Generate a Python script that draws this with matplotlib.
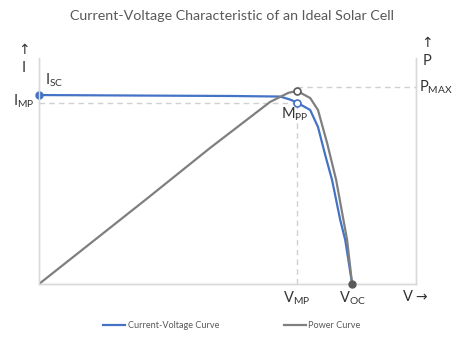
"""
plot.py -- I-V and P-V characteristic of an ideal solar cell (normalised units).
"""
import matplotlib
matplotlib.use("Agg")
import matplotlib.pyplot as plt
from matplotlib.lines import Line2D

# normalised voltage (Voc = 1), current (Isc = 1), power (Pmax = 1)
V_IV = [0.0, 0.355, 0.610, 0.770, 0.802, 0.824, 0.866, 0.891, 0.914, 0.936, 0.962, 0.978, 1.0]
I_IV = [1.0, 0.997, 0.995, 0.992, 0.976, 0.960, 0.921, 0.831, 0.683, 0.550, 0.339, 0.233, 0.0]
V_P = [0.0, 0.339, 0.546, 0.642, 0.738, 0.796, 0.824, 0.866, 0.891, 0.920, 0.949, 0.984, 1.0]
P_P = [0.0, 0.426, 0.690, 0.807, 0.924, 0.970, 0.980, 0.944, 0.883, 0.716, 0.528, 0.223, 0.0]

V_MP, I_MP, P_PEAK, P_MAX, V_OC, I_SC = 0.824, 0.960, 0.980, 1.0, 1.0, 1.0
XMAX, IMAX, PMAXLIM = 1.204, 1.196, 1.147

BLUE = "#4472C4"
GRAY = "#7F7F7F"
DARK = "#333333"
DASH = "#D0D0D0"

plt.rcParams["font.family"] = ["Lato", "DejaVu Sans"]
plt.rcParams["mathtext.fontset"] = "custom"
plt.rcParams["mathtext.rm"] = "Lato"
plt.rcParams["mathtext.it"] = "Lato"


def lab(main, sub):
    return main + r"$_{\mathrm{" + sub + "}}$"


def main():
    W, H = 464, 346
    fig = plt.figure(figsize=(W / 100, H / 100), dpi=100)
    ax = fig.add_axes([39 / W, 1 - 284 / H, (416 - 39) / W, (284 - 58) / H])
    ax2 = ax.twinx()
    for a in (ax, ax2):
        a.set_xlim(0, XMAX)
        a.set_xticks([]); a.set_yticks([])
        for s in a.spines.values():
            s.set_color("#D9D9D9"); s.set_linewidth(1.0)
        a.spines["top"].set_visible(False)
    ax.set_ylim(0, IMAX)
    ax2.set_ylim(0, PMAXLIM)
    ax.patch.set_alpha(0)

    # guide lines
    ax.plot([0, V_MP], [I_MP, I_MP], ls=(0, (4, 3)), color=DASH, lw=1)
    ax.plot([V_MP, V_MP], [0, I_MP], ls=(0, (4, 3)), color=DASH, lw=1)
    ax2.plot([V_MP, XMAX], [P_MAX, P_MAX], ls=(0, (4, 3)), color=DASH, lw=1,
             clip_on=False)

    ax2.plot(V_P, P_P, color=GRAY, lw=1.6, solid_capstyle="round",
             solid_joinstyle="round")
    ax.plot(V_IV, I_IV, color=BLUE, lw=1.6, solid_capstyle="round",
            solid_joinstyle="round")

    ax.plot(0, I_SC, "o", color=BLUE, ms=5, clip_on=False, zorder=5)
    ax.plot(V_MP, I_MP, "o", mfc="white", mec=BLUE, mew=1.2, ms=5, zorder=5)
    ax2.plot(V_MP, P_PEAK, "o", mfc="white", mec="#595959", mew=1.2, ms=5, zorder=5)
    ax2.plot(V_OC, 0, "o", color="#595959", ms=5, clip_on=False, zorder=5)

    fs = 10.5
    def ft(x, y, s, **kw):
        fig.text(x / W, 1 - y / H, s, fontsize=kw.pop("fontsize", fs),
                 color=DARK, va="center", **kw)

    ft(24, 50, "↑", ha="center", family="DejaVu Sans", fontsize=10)
    ft(24, 68, "I", ha="center")
    ft(45, 80, lab("I", "SC"), ha="left")
    ft(13, 101, lab("I", "MP"), ha="left")
    ft(427, 43, "↑", ha="center", family="DejaVu Sans", fontsize=10)
    ft(427, 61, "P", ha="center")
    ft(419, 87, lab("P", "MAX"), ha="left")
    ft(281, 114, lab("M", "PP"), ha="left")
    ft(297, 298, lab("V", "MP"), ha="center")
    ft(352, 298, lab("V", "OC"), ha="center")
    ft(403, 297, "V", ha="left")
    ft(415, 297, "→", ha="left", family="DejaVu Sans", fontsize=10)

    fig.text(0.5, 1 - 16 / H, "Current-Voltage Characteristic of an Ideal Solar Cell",
             ha="center", va="center", fontsize=10.3, color="#595959")

    handles = [Line2D([], [], color=BLUE, lw=1.6), Line2D([], [], color=GRAY, lw=1.6)]
    fig.legend(handles, ["Current-Voltage Curve", "Power Curve"], loc="center",
               bbox_to_anchor=(0.5, 1 - 326 / H), ncol=2, frameon=False,
               fontsize=6.6, handlelength=2.4, handletextpad=0.3,
               columnspacing=7.0, labelcolor="#595959")

    fig.savefig("out.png", dpi=100, facecolor="white")


if __name__ == "__main__":
    main()
